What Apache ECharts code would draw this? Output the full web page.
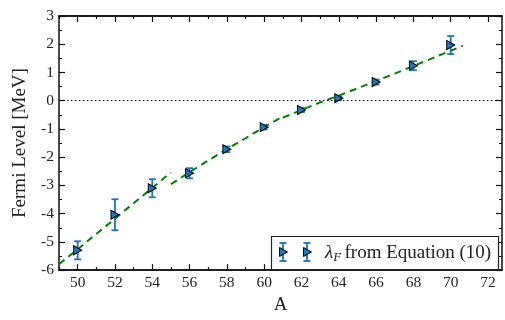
<!DOCTYPE html>
<html>
<head>
<meta charset="utf-8">
<script src="https://cdn.jsdelivr.net/npm/echarts@6/dist/echarts.min.js"></script>
<style>
    html, body { margin: 0; padding: 0; background: #fff; }
    #chart { width: 505px; height: 320px; }
</style>
</head>
<body>
<div id="chart"></div>
<script>
// measured Fermi levels with error bars
const massNumbers = [50, 52, 54, 56, 58, 60, 62, 64, 66, 68, 70];
const fermiLevels = [-5.30, -4.04, -3.10, -2.57, -1.72, -0.94, -0.33, 0.09, 0.66, 1.24, 1.97];
const fermiErrors = [0.32, 0.55, 0.32, 0.18, 0.10, 0.08, 0.07, 0.06, 0.09, 0.16, 0.32];

// dashed fit, three pieces
const fitA1 = [49, 50, 51, 52, 53, 54, 55];
const fitY1 = [-5.79, -5.26, -4.72, -4.18, -3.63, -3.09, -2.54];
const fitA2 = [55, 56, 57, 58, 59, 60, 61];
const fitY2 = [-2.96, -2.53, -2.12, -1.71, -1.33, -0.93, -0.56];
const fitA3 = [61, 62, 63, 64, 65, 66, 67, 68, 69, 70, 70.65];
const fitY3 = [-0.60, -0.33, -0.06, 0.18, 0.44, 0.70, 0.96, 1.23, 1.50, 1.77, 1.95];

// axis ticks
const xMajorTicks = [50, 52, 54, 56, 58, 60, 62, 64, 66, 68, 70, 72];
const xMinorTicks = [49, 51, 53, 55, 57, 59, 61, 63, 65, 67, 69, 71];

const FONT = 'Liberation Serif';
const BLUE = '#1f77b4';

const zip = (xs, ys) => xs.map((x, i) => [x, ys[i]]);

/**
 * x axis (bottom or top mirror), ticks inside
 */
function xAxisOf(position, ticks, len, showLabel) {
    return {
        type: 'value',
        position: position,
        min: 49,
        max: 72.75,
        name: showLabel ? 'A' : '',
        nameLocation: 'middle',
        nameGap: 24,
        nameTextStyle: { fontFamily: FONT, fontSize: 19, color: '#222' },
        axisLine: { show: true, onZero: false, lineStyle: { color: '#111', width: 1.5 } },
        axisTick: { show: true, inside: true, length: len, customValues: ticks, lineStyle: { color: '#111', width: 1.2 } },
        axisLabel: { show: showLabel, customValues: ticks, margin: 5, fontFamily: FONT, fontSize: 15.5, color: '#222' },
        splitLine: { show: false }
    };
}

function yAxisOf(position, showLabel) {
    return {
        type: 'value',
        position: position,
        min: -6,
        max: 3,
        interval: 1,
        name: showLabel ? 'Fermi Level [MeV]' : '',
        nameLocation: 'middle',
        nameGap: 29,
        nameTextStyle: { fontFamily: FONT, fontSize: 19, color: '#222' },
        axisLine: { show: true, onZero: false, lineStyle: { color: '#111', width: 1.5 } },
        axisTick: { show: true, inside: true, length: 6, lineStyle: { color: '#111', width: 1.2 } },
        minorTick: { show: true, splitNumber: 2, length: 3, lineStyle: { color: '#111', width: 1 } },
        axisLabel: { show: showLabel, margin: 5, fontFamily: FONT, fontSize: 15.5, color: '#222' },
        splitLine: { show: false }
    };
}

/**
 * vertical error bar with caps
 */
function renderErrorBar(params, api) {
    const a = api.value(0);
    const lo = api.coord([a, api.value(1)]);
    const hi = api.coord([a, api.value(2)]);
    const cap = 3.5;
    const style = { stroke: BLUE, lineWidth: 1.8 };
    return {
        type: 'group',
        children: [
            { type: 'line', shape: { x1: lo[0], y1: lo[1], x2: hi[0], y2: hi[1] }, style },
            { type: 'line', shape: { x1: lo[0] - cap, y1: lo[1], x2: lo[0] + cap, y2: lo[1] }, style },
            { type: 'line', shape: { x1: hi[0] - cap, y1: hi[1], x2: hi[0] + cap, y2: hi[1] }, style }
        ]
    };
}

function fitSeries(xs, ys) {
    return {
        type: 'line',
        data: zip(xs, ys),
        showSymbol: false,
        silent: true,
        z: 2,
        lineStyle: { color: '#008000', width: 2, type: [7, 5] }
    };
}

/**
 * legend icon: error bar + triangle marker
 */
function legendIcon(cx, cy) {
    const style = { stroke: BLUE, lineWidth: 1.8 };
    return [
        { type: 'line', z: 101, shape: { x1: cx, y1: cy - 9, x2: cx, y2: cy + 9 }, style },
        { type: 'line', z: 101, shape: { x1: cx - 3.5, y1: cy - 9, x2: cx + 3.5, y2: cy - 9 }, style },
        { type: 'line', z: 101, shape: { x1: cx - 3.5, y1: cy + 9, x2: cx + 3.5, y2: cy + 9 }, style },
        { type: 'polygon', z: 102, shape: { points: [[cx - 3.5, cy - 4.5], [cx + 4.5, cy], [cx - 3.5, cy + 4.5]] },
          style: { fill: BLUE, stroke: '#000', lineWidth: 1 } }
    ];
}

const chart = echarts.init(document.getElementById('chart'));

chart.setOption({
    animation: false,
    backgroundColor: '#fff',
    grid: { left: 59, right: 3, top: 16, bottom: 42 },
    xAxis: [
        xAxisOf('bottom', xMajorTicks, 6, true),
        xAxisOf('bottom', xMinorTicks, 3, false),
        xAxisOf('top', xMajorTicks, 6, false),
        xAxisOf('top', xMinorTicks, 3, false)
    ],
    yAxis: [yAxisOf('left', true), yAxisOf('right', false)],
    series: [
        Object.assign(fitSeries(fitA1, fitY1), {
            markLine: {
                silent: true,
                symbol: 'none',
                label: { show: false },
                lineStyle: { color: '#000', width: 1.2, type: [1.5, 2.5] },
                data: [{ yAxis: 0 }]
            }
        }),
        fitSeries(fitA2, fitY2),
        fitSeries(fitA3, fitY3),
        {
            type: 'custom',
            renderItem: renderErrorBar,
            z: 3,
            encode: { x: 0, y: [1, 2] },
            data: massNumbers.map((a, i) => [a, fermiLevels[i] - fermiErrors[i], fermiLevels[i] + fermiErrors[i]])
        },
        {
            type: 'scatter',
            z: 4,
            symbol: 'path://M0,0L10,5L0,10Z',
            symbolSize: [8, 9],
            itemStyle: { color: BLUE, borderColor: '#000', borderWidth: 1, opacity: 1 },
            data: zip(massNumbers, fermiLevels)
        }
    ],
    graphic: [
        {
            type: 'rect',
            z: 100,
            shape: { x: 271.5, y: 236.5, width: 227, height: 33 },
            style: { fill: '#fff', stroke: '#222', lineWidth: 1.2 }
        },
        ...legendIcon(283, 252),
        ...legendIcon(307, 252),
        {
            type: 'text',
            z: 101,
            x: 325,
            y: 253,
            style: {
                text: '{l|λ}{s|F} {t|from Equation (10)}',
                verticalAlign: 'middle',
                rich: {
                    l: { fontFamily: FONT, fontSize: 19, fontStyle: 'italic', fill: '#222' },
                    s: { fontFamily: FONT, fontSize: 13, fontStyle: 'italic', fill: '#222', padding: [9, 0, 0, 0] },
                    t: { fontFamily: FONT, fontSize: 19, fill: '#222' }
                }
            }
        }
    ]
});
</script>
</body>
</html>
